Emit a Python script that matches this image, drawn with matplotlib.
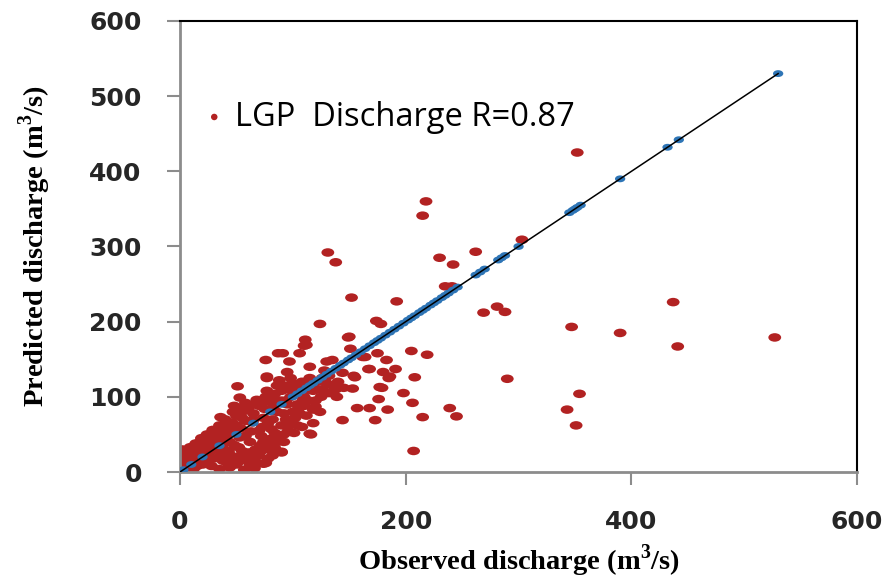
import matplotlib.pyplot as plt
from matplotlib.path import Path
from matplotlib.transforms import Affine2D

# dense cluster near the origin (observed, predicted)
cluster = [(0, 2), (1, 8), (2, 15), (3, 22), (2, 30), (5, 3), (6, 12), (7, 20), (8, 27), (9, 33),
           (10, 5), (11, 14), (12, 24), (13, 32), (14, 38), (15, 8), (16, 18), (17, 28), (18, 40),
           (19, 45), (20, 10), (21, 22), (22, 33), (23, 44), (24, 50), (25, 14), (26, 26), (27, 37),
           (28, 48), (29, 56), (30, 18), (31, 30), (33, 42), (34, 55), (35, 62), (36, 22), (37, 34),
           (38, 47), (39, 60), (40, 70), (42, 12), (43, 28), (44, 40), (45, 53), (46, 66), (47, 80),
           (48, 88), (50, 10), (51, 20), (52, 33), (53, 46), (54, 58), (55, 72), (56, 85), (58, 92),
           (60, 15), (61, 26), (62, 40), (63, 54), (64, 66), (65, 78), (66, 90), (68, 96), (70, 22),
           (71, 35), (72, 48), (73, 60), (74, 72), (75, 84), (76, 100), (77, 108), (79, 30), (80, 44),
           (81, 57), (82, 70), (83, 88), (84, 104), (86, 115), (88, 122), (89, 48), (90, 62), (92, 78),
           (94, 95), (96, 110), (98, 65), (100, 80), (104, 90), (106, 78), (66, 5), (76, 12), (90, 27),
           (69, 12), (57, 3), (44, 6), (35, 4), (100, 70), (105, 85), (110, 100), (112, 115),
           (118, 108), (122, 120), (126, 110), (130, 118), (95, 90), (102, 105), (108, 120),
           (115, 125), (120, 95), (125, 100), (132, 105), (135, 115), (128, 135), (140, 120),
           (145, 112), (112, 75), (118, 65), (124, 80), (108, 60), (96, 55), (104, 62), (86, 40),
           (92, 50), (82, 22), (78, 18), (4, 10), (8, 18), (12, 4), (18, 30), (24, 20), (28, 8),
           (32, 36), (40, 25), (46, 14), (48, 36), (55, 28), (58, 48), (62, 10), (67, 30), (70, 55),
           (74, 40), (78, 65), (84, 52), (86, 80), (90, 95), (94, 70), (98, 100), (58, 68), (50, 62),
           (42, 50), (36, 45), (30, 40), (5, 25), (10, 28), (15, 30), (20, 36), (25, 42), (30, 48),
           (35, 52), (40, 58), (45, 62), (50, 75), (55, 80), (60, 84), (65, 70), (70, 88), (75, 94),
           (80, 98), (85, 96), (90, 108), (95, 115), (100, 118), (105, 112), (110, 108), (38, 15),
           (45, 22), (52, 14), (58, 22), (64, 18), (72, 28), (78, 38), (84, 32), (92, 40), (96, 62),
           (102, 72), (110, 88), (114, 95), (120, 110), (126, 125), (132, 128), (138, 110)]

# scattered points in the middle range
middle = [(149, 179), (111, 176), (112, 169), (106, 158), (97, 147), (91, 158), (87, 158), (76, 149),
          (115, 140), (130, 147), (135, 149), (151, 164), (162, 153), (175, 158), (183, 149),
          (191, 137), (205, 161), (219, 156), (208, 126), (168, 137), (155, 126), (144, 132),
          (128, 123), (95, 133), (98, 125), (97, 112), (153, 111), (177, 113), (186, 127),
          (139, 100), (176, 97), (198, 105), (184, 83), (168, 85), (157, 85), (206, 92), (215, 73),
          (109, 96), (118, 83), (120, 87), (101, 52), (115, 51), (90, 26), (74, 11), (144, 69),
          (173, 69), (116, 50), (164, 153), (167, 137), (154, 128), (179, 112), (185, 125),
          (180, 133), (77, 125), (51, 114), (53, 99), (36, 73), (77, 127), (239, 85), (245, 74),
          (207, 28), (124, 197), (174, 201), (178, 197), (150, 180), (110, 168)]

# points far from the 1:1 line
outliers = [(352, 425), (218, 360), (215, 341), (131, 292), (138, 279), (230, 285), (242, 276),
            (262, 293), (235, 247), (241, 247), (152, 232), (192, 227), (303, 309), (437, 226),
            (269, 212), (281, 220), (288, 213), (347, 193), (390, 185), (441, 167), (527, 179),
            (290, 124), (354, 104), (343, 83), (351, 62)]

# observed values plotted on the 1:1 line
line_obs = [0, 3, 10, 20, 35, 50, 65, 80, 90, 100, 104, 108, 112, 115, 118, 122, 126, 130, 134,
            138, 142, 145, 149, 152, 156, 160, 164, 168, 172, 175, 178, 182, 186, 190, 194, 198,
            202, 205, 208, 212, 215, 218, 222, 225, 228, 232, 235, 238, 242, 246, 262, 266, 270,
            282, 285, 288, 300, 345, 348, 350, 352, 355, 390, 432, 442, 530]

red = '#b22222'
blue = '#2e75b6'

# markers in the source picture are wider than tall
circle = Path.unit_circle()
oval = Path(Affine2D().scale(1.5, 1.0).transform(circle.vertices), circle.codes)

plt.rcParams['mathtext.fontset'] = 'custom'
plt.rcParams['mathtext.rm'] = 'Liberation Serif:bold'

fig = plt.figure(figsize=(8.91, 5.81), dpi=100)
ax = fig.add_axes([0.202, 0.1876, 0.760, 0.7763])

pts = cluster + middle + outliers
obs = [p[0] for p in pts]
pred = [p[1] for p in pts]
ax.scatter(obs, pred, s=85, c=red, marker=oval, edgecolors='none', zorder=2)
ax.scatter(line_obs, line_obs, s=55, c=blue, marker=oval, edgecolors='none', zorder=3)
ax.plot([0, 530], [0, 530], color='black', lw=1.1, zorder=4)
# legend handle
ax.scatter([], [], s=22, c=red, edgecolors='none', label='LGP  Discharge R=0.87')

ax.set_xlim(0, 600)
ax.set_ylim(0, 600)
ax.set_xticks([0, 200, 400, 600])
ax.set_yticks([0, 100, 200, 300, 400, 500, 600])

for side in ['left', 'bottom']:
    ax.spines[side].set_color('#8c8c8c')
    ax.spines[side].set_linewidth(2)
for side in ['top', 'right']:
    ax.spines[side].set_color('black')
    ax.spines[side].set_linewidth(1.5)
ax.tick_params(direction='out', length=9.5, width=1.5, color='#8c8c8c',
               labelsize=18, labelcolor='#262626', pad=18)
for lab in ax.get_xticklabels() + ax.get_yticklabels():
    lab.set_family('DejaVu Sans')
    lab.set_weight('bold')

ax.set_xlabel(r'Observed discharge (m$^{3}$/s)', family='Liberation Serif',
              weight='bold', fontsize=20.5, labelpad=6)
ax.set_ylabel(r'Predicted discharge (m$^{3}$/s)', family='Liberation Serif',
              weight='bold', fontsize=20.5, labelpad=26)

ax.legend(loc='center left', bbox_to_anchor=(0.0, 0.787), frameon=False,
          prop={'family': 'Open Sans', 'size': 23.5}, handletextpad=0.1,
          handlelength=1.1, borderpad=0)

fig.savefig('out.png', dpi=100)
